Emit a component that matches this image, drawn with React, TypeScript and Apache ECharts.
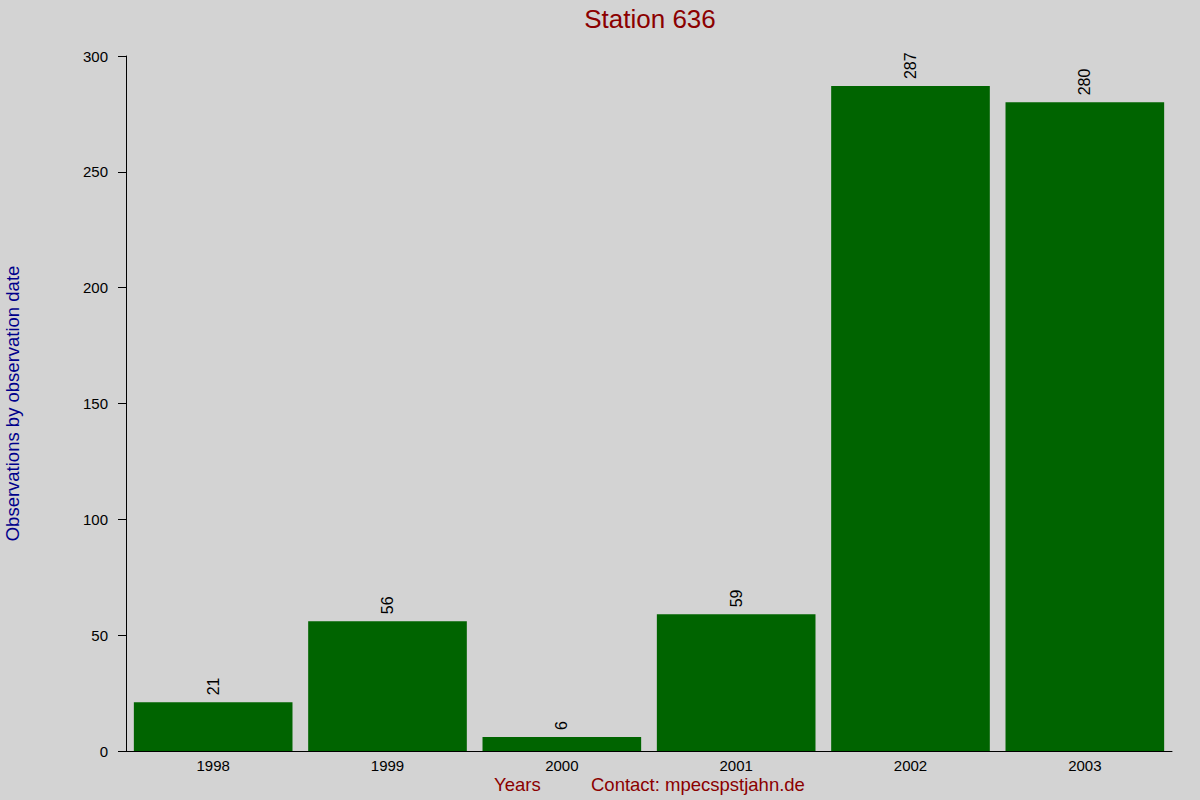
import { useEffect, useRef } from 'react';
import * as echarts from 'echarts';

const years = ['1998', '1999', '2000', '2001', '2002', '2003'];
const counts = [21, 56, 6, 59, 287, 280];
const yTicks = { min: 0, max: 300, interval: 50 };

export default function App() {
  const chartRef = useRef<HTMLDivElement>(null);

  useEffect(() => {
    if (!chartRef.current) return;
    const chart = echarts.init(chartRef.current, undefined, { renderer: 'svg' });

    const font = 'Liberation Sans, Arial, sans-serif';

    chart.setOption({
      animation: false,
      backgroundColor: '#d3d3d3',
      textStyle: { fontFamily: font },
      title: {
        text: 'Station 636',
        left: 645,
        textAlign: 'center',
        top: 1,
        textStyle: { color: '#8b0000', fontSize: 26, fontWeight: 'normal', fontFamily: font },
      },
      grid: { left: 126, right: 28, top: 56, bottom: 49, outerBoundsMode: 'none', containLabel: false },
      xAxis: {
        type: 'category',
        data: years,
        axisLine: { lineStyle: { color: '#000', width: 1 } },
        axisTick: { show: false },
        axisLabel: { color: '#000', fontSize: 15, margin: 7 },
      },
      yAxis: {
        type: 'value',
        min: yTicks.min,
        max: yTicks.max,
        interval: yTicks.interval,
        name: 'Observations by observation date',
        nameLocation: 'middle',
        nameGap: 104,
        nameTextStyle: { color: '#00008b', fontSize: 18.5 },
        axisLine: { show: true, lineStyle: { color: '#000', width: 1 } },
        axisTick: { show: true, length: 8, lineStyle: { color: '#000' } },
        axisLabel: { color: '#000', fontSize: 15, margin: 18 },
        splitLine: { show: false },
      },
      graphic: [
        {
          type: 'text',
          left: 494,
          top: 775,
          style: { text: 'Years', fill: '#8b0000', fontSize: 18.5, fontFamily: font },
        },
        {
          type: 'text',
          left: 591,
          top: 775,
          style: { text: 'Contact: mpecspstjahn.de', fill: '#8b0000', fontSize: 18.5, fontFamily: font },
        },
      ],
      series: [
        {
          type: 'bar',
          data: counts,
          barCategoryGap: '9%',
          itemStyle: { color: '#006400' },
          label: {
            show: true,
            position: 'top',
            rotate: 90,
            align: 'left',
            verticalAlign: 'middle',
            distance: 7,
            color: '#000',
            fontSize: 16,
          },
        },
      ],
    });

    return () => {
      chart.dispose();
    };
  }, []);

  return (
    <div
      ref={chartRef}
      style={{ position: 'fixed', left: 0, top: 0, width: 1200, height: 800 }}
    />
  );
}
